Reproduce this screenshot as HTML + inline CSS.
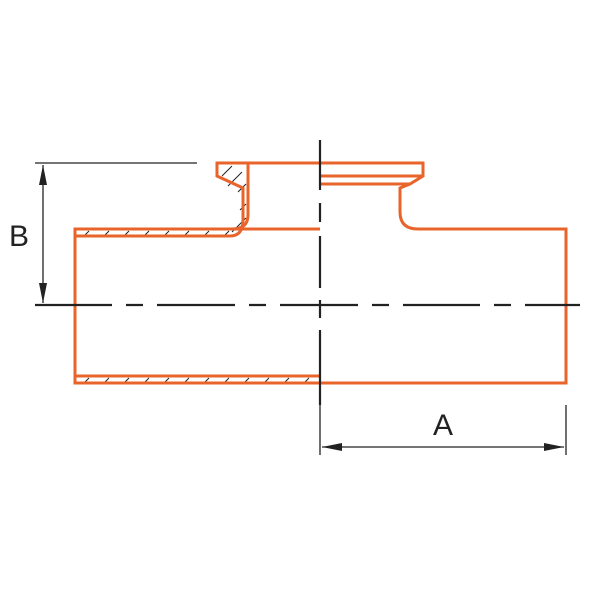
<!DOCTYPE html>
<html><head><meta charset="utf-8"><style>body{margin:0;background:#fff}svg{display:block}</style></head><body>
<svg width="600" height="600" viewBox="0 0 600 600" xmlns="http://www.w3.org/2000/svg">
<defs>
<marker id="ar" viewBox="0 0 20 8" refX="20" refY="4" markerWidth="20" markerHeight="8" markerUnits="userSpaceOnUse" orient="auto-start-reverse"><path d="M0,0 L20,4 L0,8 Z" fill="#222"/></marker>
</defs>
<g fill="none" stroke="#222" stroke-width="1.3">
<!-- hatching -->
<g stroke-width="1">
<path d="M85,235 l4,-4 M105,235 l4,-4 M125,235 l4,-4 M145,235 l4,-4 M165,235 l4,-4 M185,235 l4,-4 M205,235 l4,-4 M225,235 l4,-4"/>
<path d="M85,382 l4,-4 M105,382 l4,-4 M125,382 l4,-4 M145,382 l4,-4 M165,382 l4,-4 M185,382 l4,-4 M205,382 l4,-4 M225,382 l4,-4 M245,382 l4,-4 M265,382 l4,-4 M285,382 l4,-4 M305,382 l4,-4"/>
<path d="M222,176 l10,-10 M228,186 l14,-14 M238,192 l8,-8 M240,210 l6,-6 M232,232 l14,-14"/>
</g>
</g>
<!-- orange outline -->
<g fill="none" stroke="#e8642a" stroke-width="3">
<path d="M320,229 L75,229 L75,383 L566,383 L566,229 L418,229 Q400,229 400,212 L400,188 L410,184 L423,176 L423,163 L217,163 L217,176 L243,188 L243,220 Q243,236 230,236 L75,236"/>
<path d="M248,163 L248,215 Q248,229 232,229"/>
<path d="M75,376 L320,376"/>
<path d="M320,176 L423,176 M320,184 L410,184"/>
</g>
<!-- centerlines -->
<g stroke="#222" stroke-width="2.2" fill="none">
<path d="M35,305 L112,305 M126,305 L143,305 M157,305 L235,305 M249,305 L266,305 M280,305 L358,305 M372,305 L389,305 M403,305 L480,305 M494,305 L511,305 M525,305 L580,305"/>
<path d="M320,140 L320,190 M320,203 L320,222 M320,236 L320,288 M320,300 L320,318 M320,330 L320,405"/>
</g>
<!-- dimensions -->
<g stroke="#222" stroke-width="1.3" fill="none">
<path d="M35,163 L197,163"/>
<path d="M43,165 L43,303" marker-start="url(#ar)" marker-end="url(#ar)"/>
<path d="M320,400 L320,455 M566,405 L566,455"/>
<path d="M322,447 L564,447" marker-start="url(#ar)" marker-end="url(#ar)"/>
</g>
<g font-family="Liberation Sans, sans-serif" font-size="30" fill="#222">
<text x="9" y="246">B</text>
<text x="433" y="435">A</text>
</g>
</svg>
</body></html>
